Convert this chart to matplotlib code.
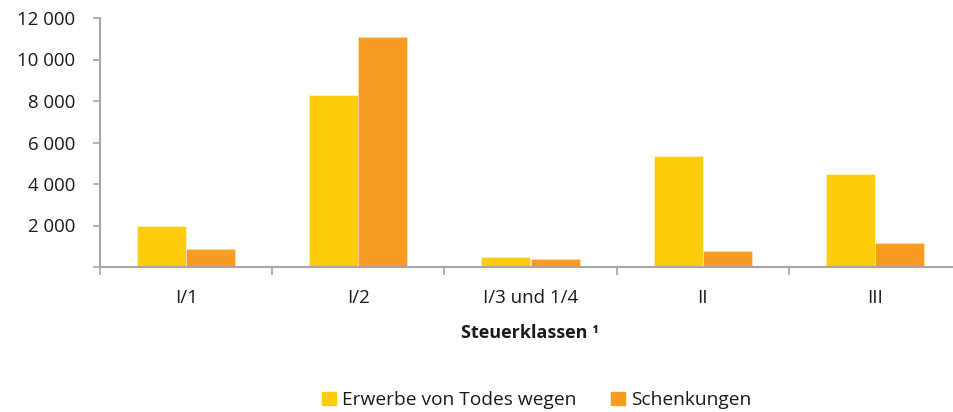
import matplotlib
matplotlib.use("Agg")
import matplotlib.pyplot as plt
import numpy as np
from matplotlib.patches import Rectangle

categories = ["I/1", "I/2", "I/3 und 1/4", "II", "III"]
erwerbe = [2000, 8300, 500, 5360, 4480]
schenkungen = [880, 11070, 390, 770, 1140]
yticks = [2000, 4000, 6000, 8000, 10000, 12000]
ytick_labels = ["2 000", "4 000", "6 000", "8 000", "10 000", "12 000"]

YELLOW = "#FDCC0A"
ORANGE = "#F89B21"
AXIS = "#A6A6A6"
TEXT = "#1a1a1a"

plt.rcParams["font.family"] = ["Open Sans", "DejaVu Sans"]

fig = plt.figure(figsize=(9.54, 4.12), dpi=100)
ax = fig.add_axes([100/954, (412-267)/412, 861/954, 249/412])

x = np.arange(len(categories))
w = 0.285
ax.bar(x - w/2, erwerbe, width=w, color=YELLOW, edgecolor="#FFF3C0", linewidth=0.6, zorder=2)
ax.bar(x + w/2, schenkungen, width=w, color=ORANGE, edgecolor="#FFE0B0", linewidth=0.6, zorder=2)

ax.set_xlim(-0.5, len(categories) - 0.5)
ax.set_ylim(0, 12000)

for s in ["top", "right"]:
    ax.spines[s].set_visible(False)
for s in ["left", "bottom"]:
    ax.spines[s].set_color(AXIS)
    ax.spines[s].set_linewidth(1.5)

ax.set_yticks([0] + yticks)
ax.set_yticklabels([""] + ytick_labels, fontsize=13.4, color=TEXT)
ax.tick_params(axis="y", length=5, width=1.2, color=AXIS, pad=13)

ax.set_xticks(np.arange(len(categories) + 1) - 0.5, minor=False)
ax.set_xticklabels([""] * (len(categories) + 1))
ax.tick_params(axis="x", which="major", length=6, width=1.2, color=AXIS, direction="out")
ax.set_xticks(x, minor=True)
ax.set_xticklabels(categories, minor=True, fontsize=13.5, color=TEXT)
ax.tick_params(axis="x", which="minor", length=0, pad=16)

ax.set_xlabel("Steuerklassen \u00b9", fontsize=13, fontweight="bold", color=TEXT, labelpad=12)

handles = [Rectangle((0, 0), 1, 1, color=YELLOW), Rectangle((0, 0), 1, 1, color=ORANGE)]
fig.legend(handles, ["Erwerbe von Todes wegen", "Schenkungen"], loc="center",
           bbox_to_anchor=(537/954, 1 - 400/412), ncol=2, frameon=False,
           fontsize=13.8, handlelength=0.7, handleheight=0.7, handletextpad=0.35,
           columnspacing=1.8, labelcolor=TEXT)

fig.savefig("out.png", dpi=100)
